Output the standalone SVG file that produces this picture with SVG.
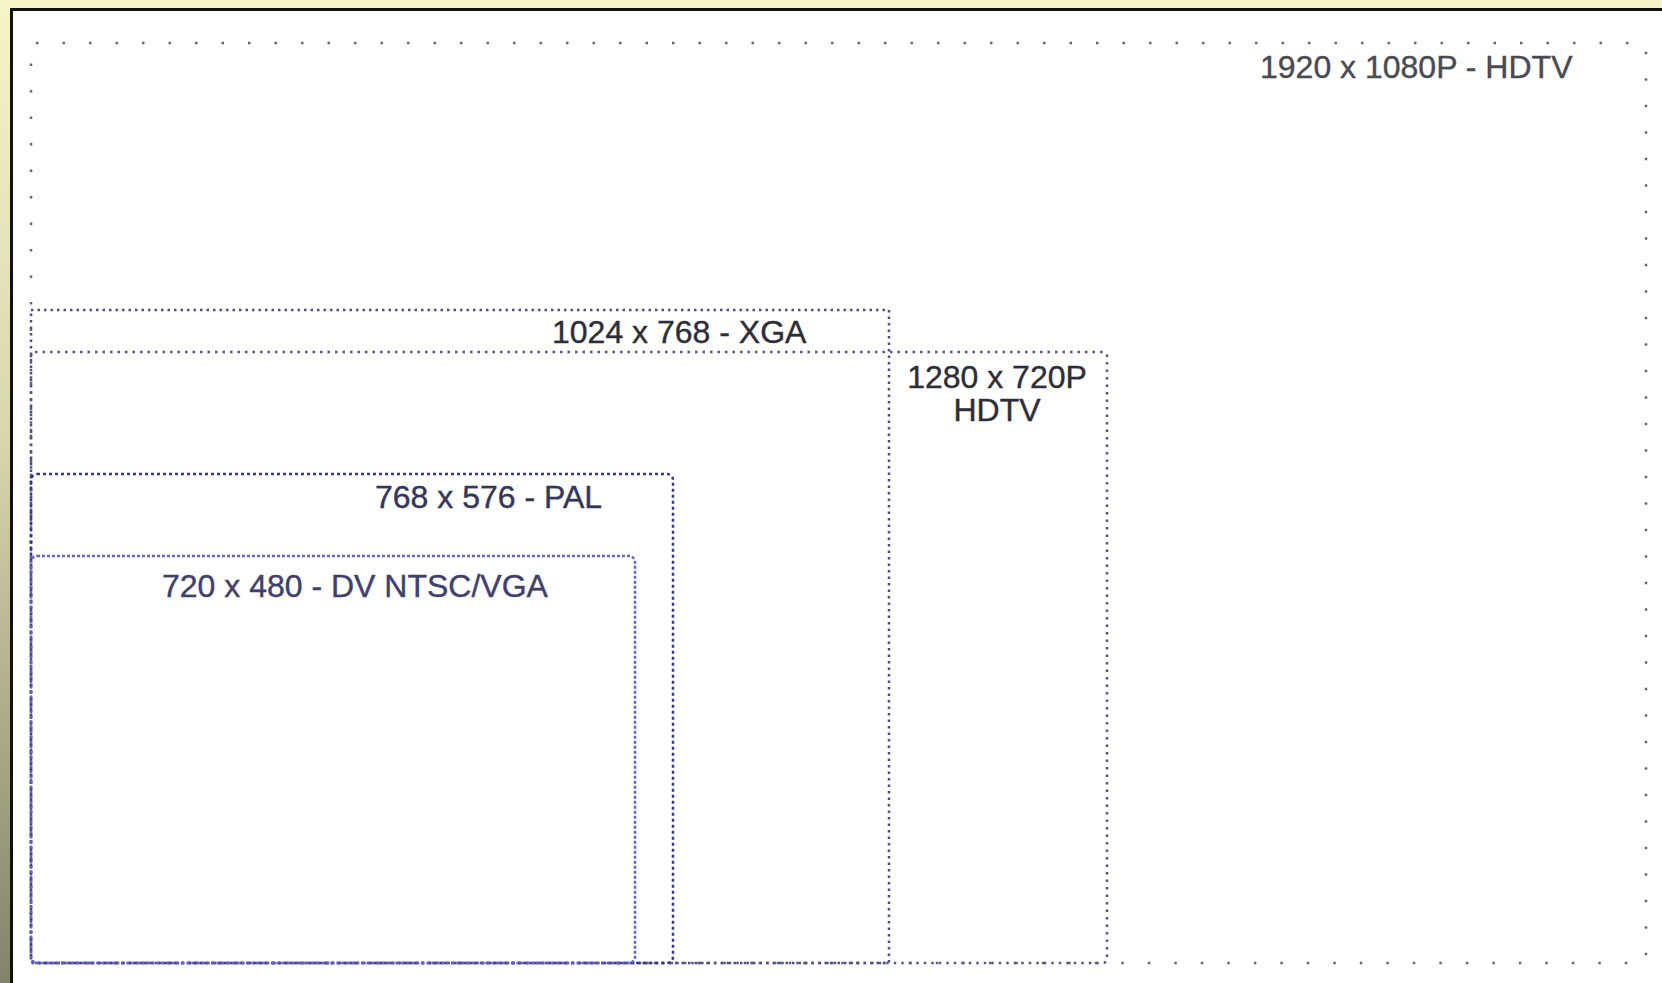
<svg xmlns="http://www.w3.org/2000/svg" width="1662" height="983" viewBox="0 0 1662 983">
<defs>
<linearGradient id="side" x1="0" y1="0" x2="0" y2="1">
<stop offset="0" stop-color="#f7f5c6"/>
<stop offset="0.45" stop-color="#d8d6ac"/>
<stop offset="1" stop-color="#84836a"/>
</linearGradient>
<style>
.box{fill:none;stroke-width:2.5}
.lbl{font-family:"Liberation Sans",Arial,sans-serif;font-size:32px;stroke-width:0.4}
</style>
</defs>
<rect x="0" y="0" width="1662" height="983" fill="#f7f5c6"/>
<rect x="0" y="0" width="11" height="983" fill="url(#side)"/>
<rect x="10" y="8" width="1652" height="975" fill="#111"/>
<rect x="13" y="11" width="1649" height="972" fill="#ffffff"/>
<g id="hdtv1080">
<rect class="box" x="31" y="43" width="1615" height="920" rx="5" stroke="#66667a" stroke-dasharray="2.5 24"/>
<text class="lbl" x="1260" y="78" fill="#4a4a52" stroke="#4a4a52">1920 x 1080P - HDTV</text>
</g>
<g id="xga">
<rect class="box" x="31" y="310" width="858" height="653" stroke="#4e4e80" stroke-dasharray="2.5 4"/>
<text class="lbl" x="552" y="343" fill="#2e2e38" stroke="#2e2e38">1024 x 768 - XGA</text>
</g>
<g id="hdtv720">
<rect class="box" x="31" y="352" width="1076" height="611" rx="4" stroke="#55558f" stroke-dasharray="2.5 5"/>
<text class="lbl" x="997" y="388" text-anchor="middle" font-size="29.5" fill="#2e2e38" stroke="#2e2e38">1280 x 720P</text>
<text class="lbl" x="997" y="421" text-anchor="middle" font-size="29.5" fill="#2e2e38" stroke="#2e2e38">HDTV</text>
</g>
<g id="pal">
<rect class="box" x="31" y="474" width="642" height="489" rx="6" stroke="#36368a" stroke-dasharray="3 3"/>
<text class="lbl" x="375" y="508" fill="#35355a" stroke="#35355a">768 x 576 - PAL</text>
</g>
<g id="ntsc">
<rect class="box" x="31" y="556" width="604" height="407" rx="6" stroke="#6262cc" stroke-dasharray="3 2"/>
<text class="lbl" x="162" y="597" font-size="31.5" fill="#40406e" stroke="#40406e">720 x 480 - DV NTSC/VGA</text>
</g>
<g id="connectors"/>
</svg>
